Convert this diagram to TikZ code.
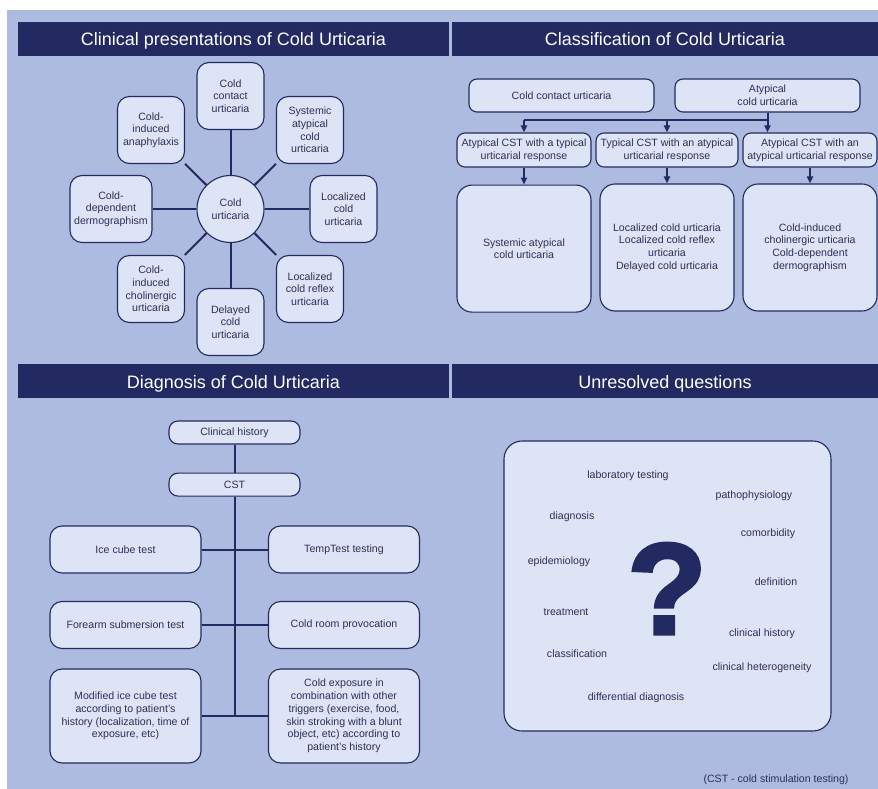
\documentclass[tikz,border=0pt]{standalone}
\usepackage{fontspec}
\setmainfont{Liberation Sans}
\newfontfamily\qmarkfont[FakeBold=2.5]{Liberation Sans}
\usepackage{tikz}
\usetikzlibrary{positioning}
\usetikzlibrary{arrows.meta}
\definecolor{bgblue}{RGB}{174,187,224}
\definecolor{navy}{RGB}{35,42,98}
\definecolor{boxfill}{RGB}{221,228,245}
\definecolor{txtblue}{RGB}{44,48,88}
\tikzstyle{titlebar} = [fill=navy, text=white, font=\fontsize{18}{21}\selectfont, inner sep=0pt, minimum height=34pt, text height=14pt, text depth=0pt]
\tikzstyle{box} = [draw=navy, fill=boxfill, line width=1.1pt, rounded corners=12pt, align=center, text=txtblue, font=\fontsize{10.6}{12.7}\selectfont, inner sep=1pt]
\tikzstyle{hub} = [box, circle, minimum size=67pt]
\tikzstyle{word} = [text=txtblue, font=\fontsize{10.6}{12.7}\selectfont, inner sep=0pt]
\tikzstyle{link} = [draw=navy, line width=2pt]
\tikzstyle{arrow} = [link, -{Triangle[length=7pt, width=6pt]}]

\begin{document}
\begin{tikzpicture}[x=1pt, y=-1pt, node distance=113pt]
    \useasboundingbox (0,0) rectangle (878,789);
    \fill[bgblue] (7,10) rectangle (878,789);

    \node[titlebar, minimum width=431pt](T1) at (233.5,39) {Clinical presentations of Cold Urticaria};
    \node[titlebar, minimum width=426pt](T2) at (665,39) {Classification of Cold Urticaria};
    \node[titlebar, minimum width=431pt](T3) at (233.5,381) {Diagnosis of Cold Urticaria};
    \node[titlebar, minimum width=426pt](T4) at (665,381) {Unresolved questions};

    % clinical presentations
    \node[hub](P0) at (230.5,209) {Cold\\urticaria};
    \node[box, minimum width=67pt, minimum height=67pt, above of=P0](P1) {Cold\\contact\\urticaria};
    \node[box, minimum width=67pt, minimum height=67pt](P2) at (310,130) {Systemic\\atypical\\cold\\urticaria};
    \node[box, minimum width=67pt, minimum height=67pt, right of=P0](P3) {Localized\\cold\\urticaria};
    \node[box, minimum width=67pt, minimum height=67pt](P4) at (310,289) {Localized\\cold reflex\\urticaria};
    \node[box, minimum width=67pt, minimum height=67pt, below of=P0](P5) {Delayed\\cold\\urticaria};
    \node[box, minimum width=67pt, minimum height=67pt](P6) at (151,289) {Cold-\\induced\\cholinergic\\urticaria};
    \node[box, minimum width=82pt, minimum height=67pt](P7) at (111,209) {Cold-\\dependent\\dermographism};
    \node[box, minimum width=67pt, minimum height=67pt](P8) at (151,130) {Cold-\\induced\\anaphylaxis};
    \foreach \i in {1,...,8}
        \draw[link] (P0) -- (P\i);

    % classification
    \node[box, rounded corners=8pt, minimum width=185pt, minimum height=33pt](K1) at (561.5,95.5) {Cold contact urticaria};
    \node[box, rounded corners=8pt, minimum width=185pt, minimum height=33pt](K2) at (767.5,95.5) {Atypical\\cold urticaria};
    \node[box, rounded corners=8pt, minimum width=134pt, minimum height=34pt](M1) at (524,150) {Atypical CST with a typical\\urticarial response};
    \node[box, rounded corners=8pt, minimum width=142pt, minimum height=34pt](M2) at (667,150) {Typical CST with an atypical\\urticarial response};
    \node[box, rounded corners=8pt, minimum width=134pt, minimum height=34pt](M3) at (810,150) {Atypical CST with an\\atypical urticarial response};
    \node[box, rounded corners=15pt, minimum width=134pt, minimum height=127pt, below=17pt of M1](B1) {Systemic atypical\\cold urticaria};
    \node[box, rounded corners=15pt, minimum width=134pt, minimum height=127pt](B2) at (667,247.5) {Localized cold urticaria\\Localized cold reflex\\urticaria\\Delayed cold urticaria};
    \node[box, rounded corners=15pt, minimum width=134pt, minimum height=127pt](B3) at (810,247.5) {Cold-induced\\cholinergic urticaria\\Cold-dependent\\dermographism};
    \coordinate (J) at (767.5,120);
    \draw[arrow] (K2.south) -- (K2.south |- M3.north);
    \draw[link] (J) -- (J -| M1);
    \draw[arrow] (J -| M1) -- (M1);
    \draw[arrow] (J -| M2) -- (M2);
    \foreach \i in {1,2,3}
        \draw[arrow] (M\i) -- (B\i);

    % diagnosis
    \node[box, rounded corners=9pt, minimum width=131pt, minimum height=23pt](D1) at (234.5,432.5) {Clinical history};
    \node[box, rounded corners=9pt, minimum width=131pt, minimum height=23pt, below=28pt of D1](D2) {CST};
    \node[box, minimum width=151pt, minimum height=47pt](L1) at (125.5,549.5) {Ice cube test};
    \node[box, minimum width=151pt, minimum height=47pt](L2) at (344,549.5) {TempTest testing};
    \node[box, minimum width=151pt, minimum height=47pt](L3) at (125.5,625) {Forearm submersion test};
    \node[box, minimum width=151pt, minimum height=47pt](L4) at (344,625) {Cold room provocation};
    \node[box, minimum width=151pt, minimum height=94pt](L5) at (125.5,716) {Modified ice cube test\\according to patient's\\history (localization, time of\\exposure, etc)};
    \node[box, minimum width=151pt, minimum height=94pt](L6) at (344,716) {Cold exposure in\\combination with other\\triggers (exercise, food,\\skin stroking with a blunt\\object, etc) according to\\patient's history};
    \draw[link] (D1) -- (D2);
    \draw[link] (D2) -- (D2 |- L5);
    \draw[link] (L1) -- (L2);
    \draw[link] (L3) -- (L4);
    \draw[link] (L5) -- (L6);

    % unresolved questions
    \node[box, rounded corners=18pt, minimum width=327pt, minimum height=290pt](Q) at (667.5,586) {};
    \node[anchor=base, inner sep=0pt, text=navy, font=\qmarkfont\fontsize{130}{130}\selectfont\bfseries](QM) at (667,634) {?};
    \node[word](W1) at (628,476) {laboratory testing};
    \node[word](W2) at (754,496) {pathophysiology};
    \node[word](W3) at (572,517) {diagnosis};
    \node[word](W4) at (768,534) {comorbidity};
    \node[word](W5) at (559,562) {epidemiology};
    \node[word](W6) at (776,582) {definition};
    \node[word](W7) at (566,612) {treatment};
    \node[word](W8) at (762,634) {clinical history};
    \node[word](W9) at (577,654) {classification};
    \node[word](W10) at (762,668) {clinical heterogeneity};
    \node[word](W11) at (636,698) {differential diagnosis};
    \node[word](N1) at (776,780) {(CST - cold stimulation testing)};
\end{tikzpicture}
\end{document}
